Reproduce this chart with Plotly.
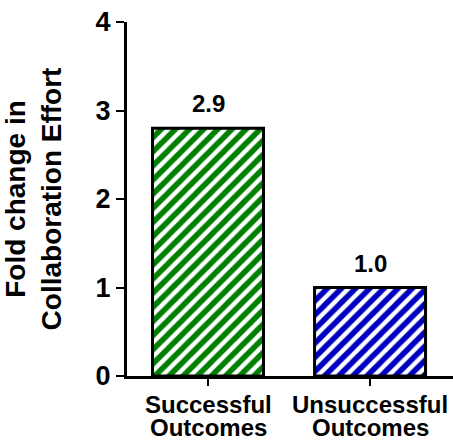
import plotly.graph_objects as go

categories = ["Successful Outcomes", "Unsuccessful Outcomes"]
values = [2.8, 1.0]
value_labels = ["2.9", "1.0"]
colors = ["#008000", "#0000C0"]
y_ticks = [0, 1, 2, 3, 4]

FONT = "Liberation Sans, Arial, sans-serif"

fig = go.Figure()
fig.add_trace(go.Bar(
    x=categories,
    y=values,
    width=0.685,
    marker=dict(
        color="white",
        line=dict(color="black", width=3),
        pattern=dict(shape="/", fgcolor=colors, bgcolor="white", size=10, solidity=0.55, fillmode="replace"),
    ),
    hoverinfo="skip",
))

for c, v, t in zip(categories, values, value_labels):
    fig.add_annotation(x=c, y=v, text="<b>%s</b>" % t, showarrow=False,
                       yanchor="bottom", yshift=9,
                       font=dict(family=FONT, size=24, color="black"))

# two-line category labels with tight line spacing
for c in categories:
    for i, word in enumerate(c.split(" ")):
        fig.add_annotation(x=c, y=0, yref="paper", text="<b>%s</b>" % word,
                           showarrow=False, yanchor="middle", yshift=-28 - 23 * i,
                           borderpad=0,
                           font=dict(family=FONT, size=24, color="black"))

fig.update_layout(
    width=453, height=442,
    margin=dict(l=127, r=0, t=22, b=66),
    paper_bgcolor="white", plot_bgcolor="white",
    showlegend=False,
    font=dict(family=FONT, color="black"),
)
fig.update_xaxes(
    range=[-0.5, 1.512],
    showline=True, linecolor="black", linewidth=3,
    ticks="outside", ticklen=7, tickwidth=2, tickcolor="black",
    showticklabels=False,
    showgrid=False, zeroline=False,
    automargin=False,
)
fig.update_yaxes(
    range=[0, 4], tickvals=y_ticks,
    showline=True, linecolor="black", linewidth=3,
    ticks="outside", ticklen=8, tickwidth=2, tickcolor="black",
    tickfont=dict(family=FONT, size=27, color="black", weight="bold"),
    showgrid=False, zeroline=False,
    title=dict(text="<b>Fold change in<br>Collaboration Effort</b>",
               font=dict(family=FONT, size=28, color="black"), standoff=28),
    automargin=False,
)

fig.write_html("out.html", config={"displayModeBar": False},
               post_script="document.body.style.margin='0';")
